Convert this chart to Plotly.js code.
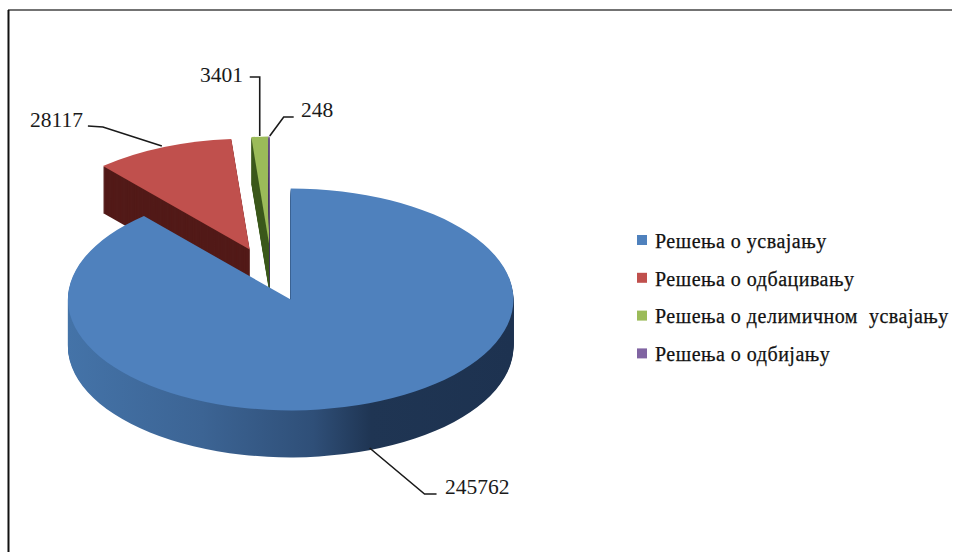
<!DOCTYPE html>
<html><head><meta charset="utf-8">
<script src="https://cdn.plot.ly/plotly-3.0.1.min.js"></script>
<style>html,body{margin:0;padding:0;background:#fff}#c{width:953px;height:552px}</style>
</head><body><div id="c"></div>
<script>
var categories = ['Решења о усвајању','Решења о одбацивању','Решења о делимичном  усвајању','Решења о одбијању'];
var values = [245762, 28117, 3401, 248];
var topColors = ['#4f81bd','#c0504d','#9bbb59','#8064a2'];
var wallColors = ['#2f5078','#521a18','#3e5a1e','#4a3a60'];
var W = 953, H = 552, cx = 291, cy = 299.5, R = 223, ry = 111, depth = 47;
var offsets = [[0,0],[-41,-50],[-21,-52],[-21,-52]];
var drawOrder = [1,2,3,0];

var dom = {x:[(cx-R)/W,(cx+R)/W], y:[(H-cy-R)/H,(H-cy+R)/H]};
var traces = [];
for (var d = 0; d <= depth; d++) {
  traces.push({type:'pie', values:values, labels:categories, sort:false, direction:'clockwise', rotation:0,
    domain:dom, textinfo:'none', hoverinfo:d===0?'label+value':'skip', showlegend:d===0,
    marker:{colors:d===0?topColors:wallColors, line:{width:0}}});
}
traces.reverse(); // deepest layer first, top face last

function ln(pts,w,c){
  var x = pts.map(function(p){return p[0]/W}), y = pts.map(function(p){return 1-p[1]/H});
  var s = 'M'+x[0]+','+y[0]; for (var i=1;i<x.length;i++) s += 'L'+x[i]+','+y[i];
  return {type:'path',xref:'paper',yref:'paper',path:s,line:{color:c||'#1a1a1a',width:w||1.6}};
}
function lb(t,x,y){
  return {text:t,xref:'paper',yref:'paper',x:x/W,y:1-y/H,xanchor:'left',yanchor:'middle',showarrow:false,
    font:{family:'Liberation Serif',size:21.5,color:'#1a1a1a'}};
}
var layout = {width:W,height:H,margin:{l:0,r:0,t:0,b:0},paper_bgcolor:'#fff',
  font:{family:'Liberation Serif',color:'#1a1a1a'},
  legend:{x:0.66,y:0.6,xanchor:'left',yanchor:'top',bgcolor:'rgba(0,0,0,0)',traceorder:'normal',
    font:{family:'Liberation Serif',size:20,color:'#111'}},
  shapes:[
    ln([[8,10],[953,10]],1.6,'#444'), ln([[8.5,10],[8.5,552]],2,'#111'),
    ln([[88,126],[103,127],[162,146]]),
    ln([[250,77],[260,77],[260,136]]),
    ln([[270,136],[284,117],[294,117]]),
    ln([[370,448],[425,494],[437,494]])
  ],
  annotations:[lb('28117',28,120),lb('3401',198,75),lb('248',299,110),lb('245762',443,487)]
};

Plotly.newPlot('c',traces,layout,{displayModeBar:false}).then(function(gd){
  var svg = gd.querySelector('svg.main-svg');
  var ns = 'http://www.w3.org/2000/svg';
  var defs = svg.querySelector('defs');
  var g = document.createElementNS(ns,'linearGradient');
  g.setAttribute('id','blueWall'); g.setAttribute('gradientUnits','userSpaceOnUse');
  g.setAttribute('x1',cx-R); g.setAttribute('x2',cx+R); g.setAttribute('y1',0); g.setAttribute('y2',0);
  [[0,'#4473a8'],[0.3,'#3c6494'],[0.55,'#2f4f78'],[0.68,'#1f3553'],[1,'#1d3250']].forEach(function(s){
    var st = document.createElementNS(ns,'stop'); st.setAttribute('offset',s[0]); st.setAttribute('stop-color',s[1]); g.appendChild(st);
  });
  defs.appendChild(g);

  var layer = gd.querySelector('.pielayer');
  var tr = Array.prototype.slice.call(layer.querySelectorAll('.trace')).map(function(t){
    return Array.prototype.slice.call(t.querySelectorAll('.slice'));
  });
  var holder = document.createElementNS(ns,'g');
  var sy = ry/R;
  drawOrder.forEach(function(i){
    tr.forEach(function(sl,k){
      var dp = depth-k, s = sl[i];
      if(!s) return;
      var o = offsets[i];
      s.setAttribute('transform','translate('+(o[0]+cx)+','+(o[1]+cy+dp)+') scale(1,'+sy+') translate('+(-cx)+','+(-cy)+')');
      if(i===0 && dp>0) s.querySelector('path.surface').style.fill='url(#blueWall)';
      holder.appendChild(s);
    });
  });
  layer.appendChild(holder);

  // legend rows
  var leg = gd.querySelector('.legend');
  leg.setAttribute('transform','translate(642,240)');
  var sb = leg.querySelector('.scrollbox');
  sb.removeAttribute('clip-path'); sb.setAttribute('transform','translate(0,0)');
  var bg = leg.querySelector('.bg'); if(bg) bg.style.display='none';
  leg.querySelectorAll('.traces').forEach(function(r,i){
    r.setAttribute('transform','translate(0,'+(i*37.8)+')');
    var p = r.querySelector('path.legendpie');
    if(p){p.setAttribute('d','M5,5H-5V-5H5Z'); p.setAttribute('transform','translate(0,0)');}
    var t = r.querySelector('.legendtext');
    if(t){
      t.setAttribute('x',13);
      t.style.letterSpacing='0.5px';
      t.style.stroke='#111'; t.style.strokeWidth='0.25px';
    }
    var tg = r.querySelector('.legendtoggle'); if(tg) tg.style.display='none';
  });
});
</script></body></html>
